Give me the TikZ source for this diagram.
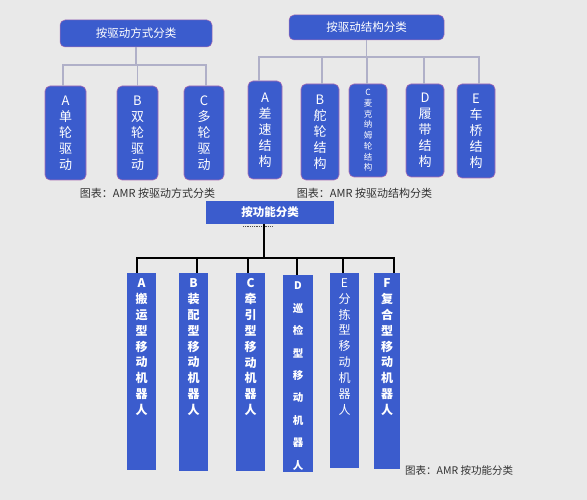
\documentclass[tikz,border=0pt]{standalone}
\usepackage{fontspec}
\setmainfont{Noto Sans CJK SC}
\definecolor{bg}{RGB}{233,233,233}
\definecolor{amrblue}{RGB}{59,92,205}
\definecolor{edge}{RGB}{170,110,180}
\definecolor{topline}{RGB}{176,176,200}
\definecolor{captxt}{RGB}{50,50,50}
\tikzset{
  titlebox/.style={fill=amrblue, draw=edge, line width=0.5pt, rounded corners=5pt, text=white, font=\fontsize{11.5}{14}\selectfont, inner sep=0pt},
  topbox/.style={fill=amrblue, draw=edge, line width=0.6pt, rounded corners=5pt, text=white, align=center, inner sep=0pt, font=\fontsize{13}{16}\selectfont},
  smallbox/.style={topbox, font=\fontsize{8.5}{10.7}\selectfont},
  funcbox/.style={fill=amrblue, inner sep=0pt},
  functitle/.style={fill=amrblue, text=white, inner sep=0pt, font=\bfseries\fontsize{11.5}{14}\selectfont},
  flab/.style={text=white, align=center, inner sep=0pt, anchor=north, font=\bfseries\fontsize{12}{15.9}\selectfont},
  flabD/.style={flab, font=\bfseries\fontsize{10.5}{22.4}\selectfont},
  flabR/.style={flab, font=\fontsize{12}{15.9}\selectfont},
  tline/.style={draw=topline, line width=1.8pt},
  bline/.style={draw=black, line width=1.4pt},
  caption/.style={text=captxt, inner sep=0pt, font=\fontsize{11}{13}\selectfont},
  smallcaption/.style={caption, font=\fontsize{10.5}{12}\selectfont}
}
\begin{document}
\begin{tikzpicture}[x=1pt,y=-1pt]
\fill[bg] (0,0) rectangle (587,500);
\useasboundingbox (0,0) rectangle (587,500);

% ---------- top left ----------
\node[titlebox, minimum width=152pt, minimum height=27pt] (t1) at (136,33.5) {按驱动方式分类};
\node[topbox, minimum width=41pt, minimum height=94pt] (a1) at (65.5,133) {A\\单\\轮\\驱\\动};
\node[topbox, minimum width=41pt, minimum height=94pt] (b1) at (137.5,133) {B\\双\\轮\\驱\\动};
\node[topbox, minimum width=40pt, minimum height=94pt] (c1) at (204,133) {C\\多\\轮\\驱\\动};
\draw[tline] (t1.south) -- ++(0,18) -| ([xshift=-2.5pt]a1.north);
\draw[tline] (t1.south) -- ++(0,18) -| (b1.north);
\draw[tline] (t1.south) -- ++(0,18) -| ([xshift=2pt]c1.north);
\node[caption] (cap1) at (147.5,193) {图表：AMR 按驱动方式分类};

% ---------- top right ----------
\node[titlebox, minimum width=155pt, minimum height=25pt] (t2) at (366.5,27.5) {按驱动结构分类};
\node[topbox, minimum width=34pt, minimum height=98pt] (a2) at (265,130) {A\\差\\速\\结\\构};
\node[topbox, minimum width=38pt, minimum height=96pt] (b2) at (320,132) {B\\舵\\轮\\结\\构};
\node[smallbox, minimum width=38pt, minimum height=93pt] (c2) at (368,130.5) {C\\麦\\克\\纳\\姆\\轮\\结\\构};
\node[topbox, minimum width=38pt, minimum height=93pt] (d2) at (425,130.5) {D\\履\\带\\结\\构};
\node[topbox, minimum width=38pt, minimum height=94pt] (e2) at (476,131) {E\\车\\桥\\结\\构};
\draw[tline] (t2.south) -- ++(0,17) -| ([xshift=-6pt]a2.north);
\draw[tline] (t2.south) -- ++(0,17) -| ([xshift=2pt]b2.north);
\draw[tline] (t2.south) -- ++(0,17) -| ([xshift=-1pt]c2.north);
\draw[tline] (t2.south) -- ++(0,17) -| ([xshift=-1pt]d2.north);
\draw[tline] (t2.south) -- ++(0,17) -| ([xshift=3pt]e2.north);
\node[caption] (cap2) at (364.5,193) {图表：AMR 按驱动结构分类};

% ---------- bottom ----------
\node[functitle, minimum width=128pt, minimum height=23pt] (t3) at (270,212.5) {按功能分类};
\draw[densely dotted, line width=0.8pt, draw=black!70] (243,226.5) -- (273,226.5);
\node[funcbox, minimum width=29pt, minimum height=197pt] (a3) at (141.5,371.5) {};
\node[funcbox, minimum width=29pt, minimum height=198pt] (b3) at (193.5,372) {};
\node[funcbox, minimum width=29pt, minimum height=198pt] (c3) at (250.5,372) {};
\node[funcbox, minimum width=30pt, minimum height=197pt] (d3) at (298,373.5) {};
\node[funcbox, minimum width=29pt, minimum height=195pt] (e3) at (344.5,370.5) {};
\node[funcbox, minimum width=26pt, minimum height=196pt] (f3) at (387,371) {};
\node[flab] (la) at ([yshift=-5.5pt]a3.north) {A\\搬\\运\\型\\移\\动\\机\\器\\人};
\node[flab] (lb) at ([yshift=-5.5pt]b3.north) {B\\装\\配\\型\\移\\动\\机\\器\\人};
\node[flab] (lc) at ([yshift=-5.5pt]c3.north) {C\\牵\\引\\型\\移\\动\\机\\器\\人};
\node[flabD] (ld) at ([yshift=-7pt]d3.north) {D\\巡\\检\\型\\移\\动\\机\\器\\人};
\node[flabR] (le) at ([yshift=-5.5pt]e3.north) {E\\分\\拣\\型\\移\\动\\机\\器\\人};
\node[flab] (lf) at ([yshift=-5.5pt]f3.north) {F\\复\\合\\型\\移\\动\\机\\器\\人};
\draw[bline] ([xshift=-6pt]t3.south) -- ++(0,34) -| ([xshift=-4.5pt]a3.north);
\draw[bline] ([xshift=-6pt]t3.south) -- ++(0,34) -| ([xshift=3.5pt]b3.north);
\draw[bline] ([xshift=-6pt]t3.south) -- ++(0,34) -| ([xshift=-2.5pt]c3.north);
\draw[bline] ([xshift=-6pt]t3.south) -- ++(0,34) -| ([xshift=-1pt]d3.north);
\draw[bline] ([xshift=-6pt]t3.south) -- ++(0,34) -| ([xshift=-1.5pt]e3.north);
\draw[bline] ([xshift=-6pt]t3.south) -- ++(0,34) -| ([xshift=7pt]f3.north);
\node[smallcaption, anchor=west] (cap3) at (405,470) {图表：AMR 按功能分类};
\end{tikzpicture}
\end{document}
